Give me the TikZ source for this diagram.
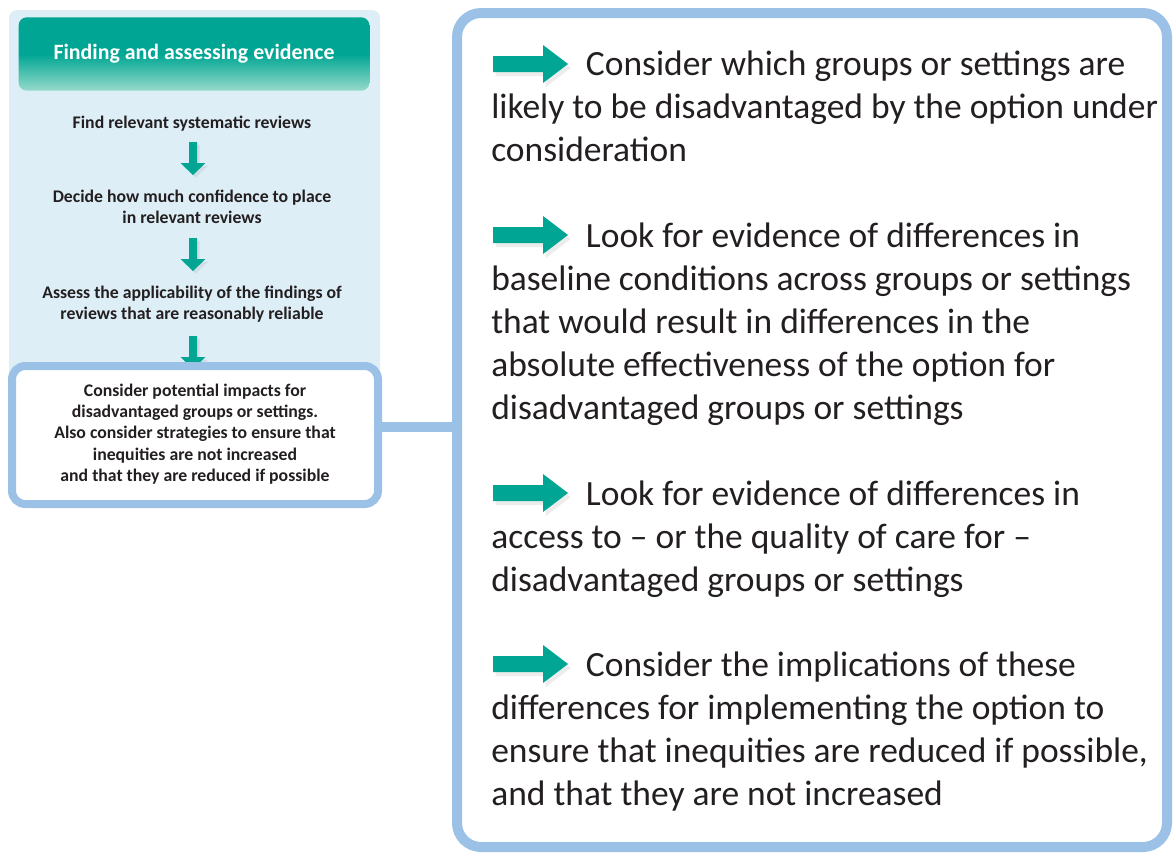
\documentclass[tikz,border=0pt]{standalone}
\usepackage{fontspec}
\setmainfont{Carlito}
\usetikzlibrary{shadows}

\definecolor{evgreen}{RGB}{0,166,147}
\definecolor{evmint}{RGB}{150,218,203}
\definecolor{evframe}{RGB}{155,194,230}
\definecolor{evpale}{RGB}{222,238,247}
\definecolor{evtext}{RGB}{35,31,32}

\tikzset{
  header/.style={minimum width=263pt, minimum height=55pt, rounded corners=6pt,
    top color=evgreen, bottom color=evmint, middle color=evgreen,
    text=white, font=\fontsize{16.4}{19}\selectfont\bfseries},
  steptext/.style={font=\fontsize{13.3}{15.9}\selectfont\bfseries, text=evtext,
    align=center, inner sep=0pt},
  impactbox/.style={draw=evframe, fill=white, line width=6pt, rounded corners=10pt,
    minimum width=274.5pt, minimum height=103.5pt},
  panelbox/.style={draw=evframe, fill=white, line width=7.5pt, rounded corners=18pt,
    minimum width=532.5pt, minimum height=625.5pt},
  link/.style={evframe, line width=7.5pt},
  bodytext/.style={font=\fontsize{26.6}{32.25}\selectfont, text=evtext,
    align=left, inner sep=0pt, anchor=north west},
  downarrow/.pic={\fill[evgreen, drop shadow={opacity=0.15, shadow xshift=2pt, shadow yshift=-2pt}]
    (-4,0) -- (4,0) -- (4,21) -- (12.5,21) -- (0,33) -- (-12.5,21) -- (-4,21) -- cycle;},
  rightarrow/.pic={\fill[evgreen, drop shadow={opacity=0.15, shadow xshift=2pt, shadow yshift=-3pt}]
    (0,-8) -- (50,-8) -- (50,-19) -- (75,0) -- (50,19) -- (50,8) -- (0,8) -- cycle;},
}

\begin{document}
\begin{tikzpicture}[x=0.75pt, y=-0.75pt]
  \useasboundingbox (0,0) rectangle (1174,854);

  % left column
  \fill[evpale, rounded corners=6pt] (9,10) rectangle (380,470);
  \node[header] (hdr) at (194,54) {Finding and assessing evidence};

  \node[steptext] (find) at (192,124) {Find relevant systematic reviews};
  \node[steptext] (decide) at (192,207) {Decide how much confidence to place\\in relevant reviews};
  \node[steptext] (assess) at (192,304) {Assess the applicability of the findings of\\reviews that are reasonably reliable};
  \pic at (193,142) {downarrow};
  \pic at (193,238) {downarrow};
  \pic at (193,336) {downarrow};

  \node[impactbox] (impact) at (195,435) {};
  \node[steptext] (impacttext) at (195,434) {Consider potential impacts for\\disadvantaged groups or settings.\\Also consider strategies to ensure that\\inequities are not increased\\and that they are reduced if possible};

  % right panel
  \node[panelbox] (panel) at (812,430) {};
  \draw[link] ([yshift=6pt]impact.east) -- ([yshift=6pt]impact.east -| panel.west);

  \node[bodytext] (p1) at (491,51) {\hspace*{71pt}Consider which groups or settings are\\likely to be disadvantaged by the option under\\consideration};
  \node[bodytext] (p2) at (491,223) {\hspace*{71pt}Look for evidence of differences in\\baseline conditions across groups or settings\\that would result in differences in the\\absolute effectiveness of the option for\\disadvantaged groups or settings};
  \node[bodytext] (p3) at (491,481) {\hspace*{71pt}Look for evidence of differences in\\access to -- or the quality of care for --\\disadvantaged groups or settings};
  \node[bodytext] (p4) at (491,652) {\hspace*{71pt}Consider the implications of these\\differences for implementing the option to\\ensure that inequities are reduced if possible,\\and that they are not increased};
  \pic at (493,64) {rightarrow};
  \pic at (493,235) {rightarrow};
  \pic at (493,493) {rightarrow};
  \pic at (493,664) {rightarrow};
\end{tikzpicture}
\end{document}
